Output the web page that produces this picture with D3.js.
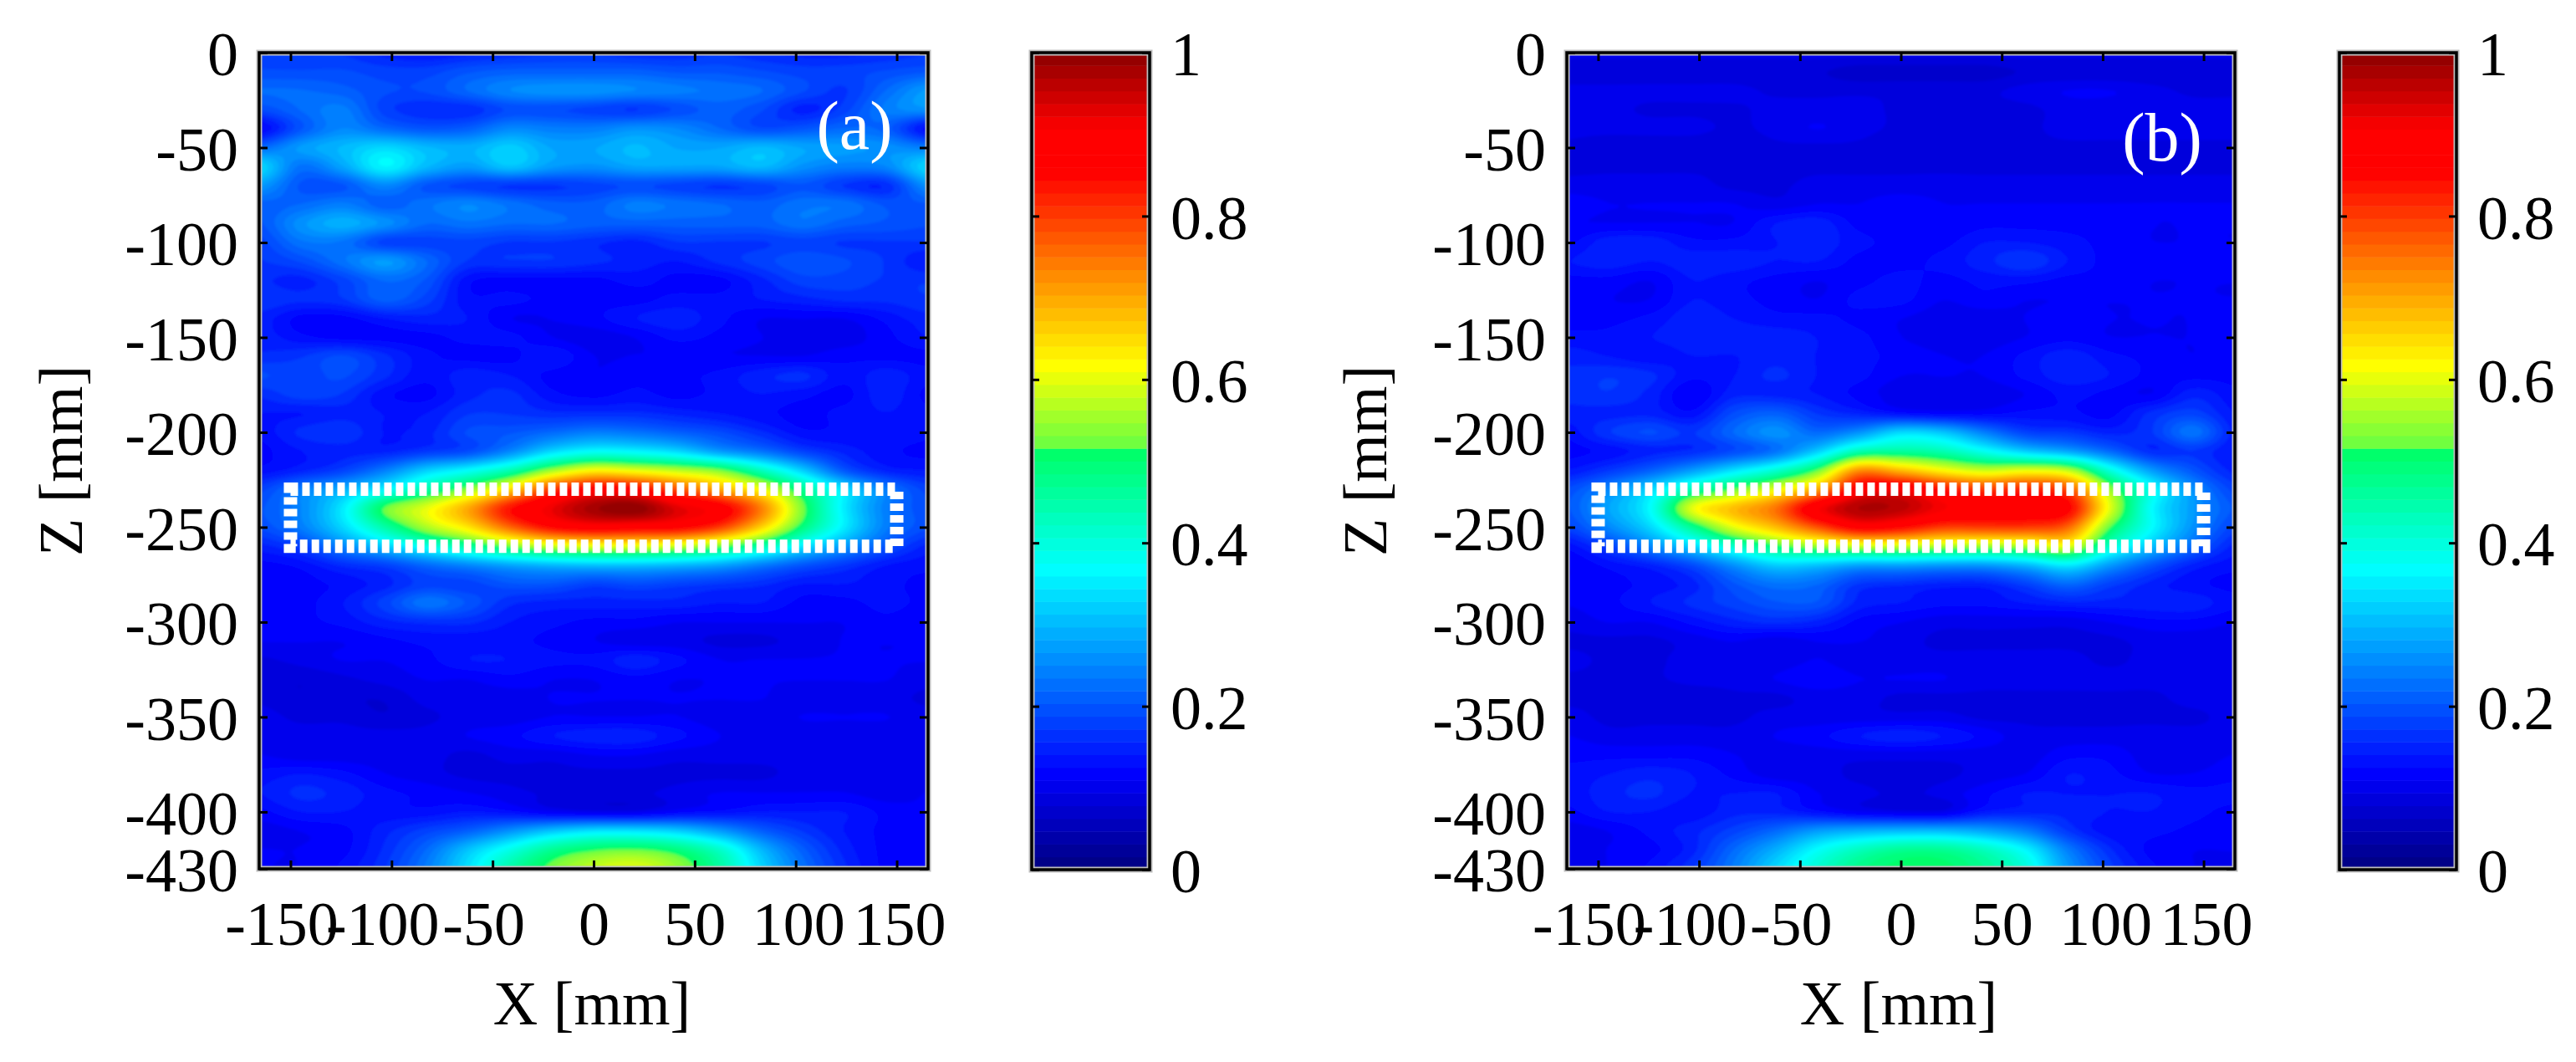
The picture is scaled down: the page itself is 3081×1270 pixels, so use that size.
<!DOCTYPE html>
<html>
<head>
<meta charset="utf-8">
<script src="https://cdn.jsdelivr.net/npm/d3@7"></script>
<style>
  html, body { margin: 0; background: #fff; }
  svg text { font-family: "Liberation Serif", serif; fill: #000; }
</style>
</head>
<body>
<svg id="chart" width="3081" height="1270"></svg>
<script>
// columns: X [mm] of the read-off nodes, rows: Z [mm]
const xNodes = [-165.5, -144.8, -124.1, -103.4, -82.8, -62.1, -41.4, -20.7, 0, 20.7, 41.4, 62.1, 82.8, 103.4, 124.1, 144.8, 165.5];
const zNodes = [0, -10, -20, -30, -40, -50, -60, -70, -80, -90, -100, -110, -120, -130, -140, -150, -160, -170, -180, -190, -200, -210,
  -220, -230, -240, -250, -260, -270, -280, -290, -300, -310, -320, -330, -340, -350, -360, -370, -380, -390, -400, -410, -420, -430];

// normalised field (in percent)
const fieldA = [
  [18,17,17,15,14,15,16,17,17,16,16,17,16,15,15,16,17],
  [19,19,19,18,18,20,21,21,21,21,20,20,19,18,18,19,20],
  [22,22,21,19,19,22,25,26,26,25,24,23,22,19,17,22,27],
  [19,22,24,18,16,16,19,19,18,17,19,21,19,15,18,24,26],
  [12,20,25,22,20,21,25,24,24,26,25,22,19,20,22,21,13],
  [22,27,30,33,30,29,32,28,28,30,28,28,30,28,27,26,24],
  [33,23,28,36,30,27,31,27,26,28,28,28,30,26,24,25,33],
  [27,20,20,25,20,18,17,17,18,19,18,17,18,20,17,16,26],
  [21,22,24,21,23,25,23,21,21,24,23,22,21,23,23,20,20],
  [20,26,29,26,22,23,22,22,21,21,21,21,21,23,21,20,19],
  [18,23,23,18,18,18,17,17,16,15,17,17,17,18,17,17,17],
  [17,19,23,27,22,17,17,17,16,15,14,16,18,20,19,17,14],
  [16,15,18,22,20,13,12,12,12,13,12,12,15,18,18,17,17],
  [17,16,17,21,18,13,13,12,12,12,13,13,14,15,16,16,17],
  [15,12,12,14,15,14,11,11,12,14,15,13,11,11,11,13,15],
  [15,13,12,12,12,13,13,11,10,11,13,12,11,10,10,12,14],
  [16,17,19,16,13,12,12,14,11,11,11,11,11,11,12,12,12],
  [19,18,19,16,13,15,14,12,11,12,12,13,15,16,13,15,13],
  [16,18,17,13,12,15,16,13,12,13,12,13,14,13,12,15,12],
  [14,14,15,14,14,17,17,16,16,16,15,14,13,12,13,14,13],
  [13,16,17,14,15,19,20,22,24,23,21,19,16,13,13,14,13],
  [12,14,15,15,17,19,25,33,37,36,33,27,23,18,15,13,12],
  [13,15,18,24,32,37,44,55,62,60,57,53,43,32,20,15,14],
  [18,24,29,36,45,54,65,80,87,86,78,70,61,47,34,24,18],
  [20,25,35,52,60,70,84,92,98,100,93,88,74,53,35,24,19],
  [19,24,33,45,56,64,76,85,88,87,86,80,66,49,35,24,19],
  [15,18,25,32,39,46,53,58,60,60,58,53,45,35,27,20,15],
  [12,13,16,18,22,25,28,30,31,31,30,28,24,20,17,14,13],
  [12,12,13,15,18,18,20,20,18,19,18,17,16,14,14,13,12],
  [12,12,14,18,23,20,16,15,15,15,15,14,14,12,12,13,12],
  [11,12,13,15,16,16,14,13,12,12,11,11,11,11,11,12,11],
  [11,11,11,12,13,13,13,12,11,10,10,9,9,10,11,11,11],
  [9,10,11,11,12,14,14,13,13,15,13,11,11,11,11,11,11],
  [8,8,9,10,11,11,12,11,11,12,11,11,11,11,11,11,10],
  [9,8,8,8,10,10,10,11,11,11,11,11,11,10,10,10,9],
  [10,9,9,8,9,10,10,11,11,11,11,10,10,11,11,11,10],
  [10,10,10,10,10,11,12,14,15,15,13,11,10,10,10,10,10],
  [11,10,10,10,10,9,10,10,11,11,10,10,10,10,10,10,10],
  [13,14,13,11,10,9,9,9,9,9,9,9,9,10,10,10,10],
  [14,16,15,13,12,11,10,9,9,9,10,11,11,11,11,10,11],
  [12,14,14,13,13,14,13,11,10,10,12,13,14,14,14,12,11],
  [10,11,12,15,18,21,26,31,34,34,32,27,21,17,14,12,11],
  [11,11,12,16,22,31,39,47,51,52,49,42,30,21,15,12,11],
  [11,11,13,17,24,34,45,53,58,60,55,46,33,23,16,12,11]
];

// same grid, panel (b)
const fieldB = [
  [10,10,10,10,10,10,10,10,10,10,10,10,10,10,10,10,10],
  [8,8,8,8,8,8,8,7,7,7,7,8,8,8,8,8,8],
  [10,10,10,10,10,9,9,9,9,9,9,10,11,11,10,9,9],
  [10,10,9,9,9,10,10,10,9,9,9,9,10,10,10,10,10],
  [10,10,10,10,9,10,11,10,9,9,9,9,10,10,10,10,10],
  [9,8,8,8,8,9,9,9,8,8,9,9,9,9,9,9,9],
  [9,9,9,9,9,9,9,9,9,9,9,9,9,9,9,9,9],
  [10,10,10,10,9,9,10,10,10,10,10,10,10,10,10,10,10],
  [12,11,11,11,11,10,11,11,12,11,11,11,11,11,11,11,11],
  [11,11,11,11,11,14,15,12,12,11,12,12,12,12,11,11,11],
  [12,15,15,13,13,14,15,13,12,12,14,14,13,12,11,11,11],
  [14,15,14,15,15,14,14,12,12,13,15,17,14,12,12,11,12],
  [12,12,11,14,13,12,11,12,13,12,13,13,12,12,11,11,11],
  [12,11,11,14,13,12,11,13,13,11,12,11,11,11,11,11,11],
  [12,12,13,15,14,13,13,12,11,10,10,11,12,11,11,11,12],
  [13,13,14,15,15,15,14,13,11,10,10,11,12,11,11,11,12],
  [15,14,13,14,14,15,14,13,12,11,11,13,15,13,12,11,12],
  [16,17,16,13,14,16,14,13,11,11,11,13,15,14,12,12,12],
  [16,17,15,11,15,15,14,12,10,10,10,11,13,12,11,15,13],
  [15,15,15,13,19,21,17,15,13,12,12,13,13,12,16,18,14],
  [13,17,19,17,22,26,22,26,33,31,24,18,17,15,17,23,15],
  [12,13,15,16,19,23,32,44,46,44,38,32,28,22,16,17,14],
  [14,17,21,27,34,41,52,72,68,62,58,60,57,40,27,20,15],
  [19,25,33,44,52,60,70,88,90,84,80,82,78,55,38,26,18],
  [20,28,37,60,68,75,90,97,96,91,88,88,86,60,37,27,20],
  [18,25,33,47,60,68,78,87,85,80,80,80,76,52,37,26,18],
  [13,18,25,33,42,50,55,58,58,56,55,56,60,42,31,22,15],
  [11,13,15,19,26,32,31,28,28,27,27,30,35,27,20,15,13],
  [11,12,13,15,20,23,22,17,16,15,15,18,22,18,15,13,12],
  [11,12,14,16,18,20,20,15,14,13,13,14,15,15,15,15,13],
  [10,11,11,13,15,16,15,12,11,10,10,10,10,11,12,12,11],
  [9,9,9,10,11,10,11,11,10,9,9,9,9,9,10,10,10],
  [10,9,9,10,10,10,11,10,10,10,10,10,10,9,10,10,10],
  [9,9,9,10,10,11,12,11,11,11,10,10,10,10,10,10,10],
  [9,9,8,8,9,9,10,10,9,9,9,9,9,9,9,10,10],
  [10,9,9,9,9,10,10,10,10,10,9,9,9,9,9,9,10],
  [11,10,10,10,10,11,12,14,15,14,12,10,10,10,10,10,10],
  [12,12,12,12,11,10,10,10,10,10,10,10,12,12,10,10,11],
  [13,14,15,14,12,10,10,9,9,9,10,11,14,13,11,11,12],
  [13,15,16,14,14,14,11,10,9,10,12,14,14,14,14,13,13],
  [12,14,14,13,15,15,13,11,10,10,14,15,15,14,14,13,12],
  [10,11,13,15,18,22,27,29,30,30,28,24,17,13,13,12,11],
  [10,11,12,15,22,29,37,43,47,47,43,36,24,16,12,11,11],
  [10,11,13,17,24,33,41,48,51,51,47,40,27,18,13,11,10]
];

// colormap (has the step near 0.51)
const cmapStops = [0, 0.118, 0.368, 0.513, 0.516, 0.617, 0.73, 0.853, 0.906, 1];
const cmapColors = ['#000080', '#0000ff', '#00ffff', '#00ff66', '#66ff44', '#ffff00', '#ff8800', '#ff0000', '#ff0000', '#8b0000'];
const nLevels = 64;

const xTicks = [-150, -100, -50, 0, 50, 100, 150];
const zTicks = [0, -50, -100, -150, -200, -250, -300, -350, -400, -430];
const cbarTicks = [0, 0.2, 0.4, 0.6, 0.8, 1];
const boxX = [-150, 150];
const boxZ = [-260, -230];

const plotTop = 63, plotBottom = 1039;
const fontSize = 74;

const svg = d3.select('#chart');
const color = d3.scaleLinear().domain(cmapStops).range(cmapColors).interpolate(d3.interpolateRgb);
const levels = d3.range(nLevels).map(i => i / nLevels);
const levelColor = i => color((i + 0.5) / nLevels);

const defs = svg.append('defs');
defs.append('filter').attr('id', 'soft')
  .attr('x', '-2%').attr('y', '-2%').attr('width', '104%').attr('height', '104%')
  .append('feGaussianBlur').attr('stdDeviation', 1.4);

// catmull-rom between read-off nodes, only for the smooth shading
function cr(a, b, c, d, t) {
  return 0.5 * (2 * b + (c - a) * t + (2 * a - 5 * b + 4 * c - d) * t * t + (3 * b - a - 3 * c + d) * t * t * t);
}

function sample(field, u, v) {
  const rows = field.length, cols = field[0].length;
  const cell = (r, c) => field[Math.max(0, Math.min(rows - 1, r))][Math.max(0, Math.min(cols - 1, c))];
  const i = Math.min(cols - 2, Math.floor(u)), j = Math.min(rows - 2, Math.floor(v));
  const tu = u - i, tv = v - j;
  const col = k => cr(cell(k, i - 1), cell(k, i), cell(k, i + 1), cell(k, i + 2), tu);
  return Math.max(0, Math.min(100, cr(col(j - 1), col(j), col(j + 1), col(j + 2), tv))) / 100;
}

function drawFrame(g, x, y, w, h) {
  g.append('rect').attr('x', x).attr('y', y).attr('width', w).attr('height', h)
    .attr('fill', 'none').attr('stroke', '#bdbdbd').attr('stroke-width', 7);
  g.append('rect').attr('x', x).attr('y', y).attr('width', w).attr('height', h)
    .attr('fill', 'none').attr('stroke', '#000').attr('stroke-width', 3.5);
}

function styleAxis(sel) {
  sel.select('.domain').remove();
  sel.selectAll('line').attr('stroke', '#000').attr('stroke-width', 3);
  sel.selectAll('text').attr('font-size', fontSize).attr('font-family', '"Liberation Serif", serif').attr('fill', '#000');
}

function drawPanel(id, field, left, right, tag, tagX, tagY, zLabelX, xLabelX) {
  const g = svg.append('g').attr('class', 'panel').attr('id', id);
  const scaleX = d3.scaleLinear().domain([-165.5, 165.5]).range([left, right]);
  const scaleZ = d3.scaleLinear().domain([-430, 0]).range([plotBottom, plotTop]);

  // node index lookups, X/Z -> position in the read-off grid
  const uOf = d3.scaleLinear().domain(xNodes).range(xNodes.map((d, i) => i));
  const vOf = d3.scaleLinear().domain(zNodes).range(zNodes.map((d, i) => i));

  const step = 4;
  const nx = Math.round((right - left) / step);
  const ny = Math.round((plotBottom - plotTop) / step);
  const values = new Array(nx * ny);
  for (let j = 0; j < ny; j++) {
    const z = scaleZ.invert(plotTop + (j + 0.5) * (plotBottom - plotTop) / ny);
    for (let i = 0; i < nx; i++) {
      const x = scaleX.invert(left + (i + 0.5) * (right - left) / nx);
      values[j * nx + i] = sample(field, uOf(x), vOf(z));
    }
  }

  const contours = d3.contours().size([nx, ny]).smooth(true).thresholds(levels)(values);
  const path = d3.geoPath();

  const clipId = `clip-${id}`;
  defs.append('clipPath').attr('id', clipId)
    .append('rect').attr('x', left).attr('y', plotTop).attr('width', right - left).attr('height', plotBottom - plotTop);

  const heat = g.append('g').attr('clip-path', `url(#${clipId})`).append('g').attr('filter', 'url(#soft)');
  heat.append('rect').attr('x', left - 10).attr('y', plotTop - 10)
    .attr('width', right - left + 20).attr('height', plotBottom - plotTop + 20).attr('fill', levelColor(7));
  heat.append('g')
    .attr('transform', `translate(${left},${plotTop}) scale(${(right - left) / nx},${(plotBottom - plotTop) / ny})`)
    .selectAll('path')
    .data(contours)
    .enter().append('path')
    .attr('d', path)
    .attr('fill', (d, i) => levelColor(i));

  // white dotted box
  g.append('rect')
    .attr('x', scaleX(boxX[0])).attr('y', scaleZ(boxZ[1]))
    .attr('width', scaleX(boxX[1]) - scaleX(boxX[0]))
    .attr('height', scaleZ(boxZ[0]) - scaleZ(boxZ[1]))
    .attr('fill', 'none').attr('stroke', '#fff').attr('stroke-width', 16)
    .attr('stroke-dasharray', '9 5');

  drawFrame(g, left, plotTop, right - left, plotBottom - plotTop);

  // axes, ticks point inwards on all four sides
  g.append('g').attr('transform', `translate(0,${plotBottom})`)
    .call(d3.axisBottom(scaleX).tickValues(xTicks).tickFormat(d => String(d)).tickSize(-10).tickPadding(38))
    .call(styleAxis)
    .selectAll('text').attr('dx', d => d < 0 ? -11 : d >= 100 ? 3 : 0);
  g.append('g').attr('transform', `translate(0,${plotTop})`)
    .call(d3.axisTop(scaleX).tickValues(xTicks).tickFormat('').tickSize(-10))
    .call(styleAxis);
  g.append('g').attr('transform', `translate(${left},0)`)
    .call(d3.axisLeft(scaleZ).tickValues(zTicks).tickFormat(d => String(d)).tickSize(-10).tickPadding(25))
    .call(styleAxis)
    .selectAll('text').attr('dy', '0.36em');
  g.append('g').attr('transform', `translate(${right},0)`)
    .call(d3.axisRight(scaleZ).tickValues(zTicks).tickFormat('').tickSize(-10))
    .call(styleAxis);

  g.append('text').attr('x', xLabelX).attr('y', 1225)
    .attr('text-anchor', 'middle').attr('font-size', fontSize).text('X [mm]');
  g.append('text')
    .attr('transform', `translate(${zLabelX},${(plotTop + plotBottom) / 2}) rotate(-90)`)
    .attr('text-anchor', 'middle').attr('font-size', fontSize).text('Z [mm]');
  g.append('text').attr('x', tagX).attr('y', tagY)
    .attr('text-anchor', 'middle').attr('font-size', 82).style('fill', '#fff').text(tag);
}

function drawColorbar(id, left, right) {
  const g = svg.append('g').attr('class', 'colorbar').attr('id', id);
  const scaleV = d3.scaleLinear().domain([0, 1]).range([plotBottom + 1, plotTop]);
  g.selectAll('rect.band')
    .data(levels)
    .enter().append('rect')
    .attr('class', 'band')
    .attr('x', left)
    .attr('width', right - left)
    .attr('y', d => scaleV(d + 1 / nLevels))
    .attr('height', d => scaleV(d) - scaleV(d + 1 / nLevels) + 0.5)
    .attr('fill', (d, i) => levelColor(i));

  drawFrame(g, left, plotTop, right - left, plotBottom + 1 - plotTop);

  g.append('g').attr('transform', `translate(${right},0)`)
    .call(d3.axisRight(scaleV).tickValues(cbarTicks).tickFormat(d => String(d)).tickSize(-9).tickPadding(25))
    .call(styleAxis)
    .selectAll('text').attr('dy', '0.36em');
  g.append('g').attr('transform', `translate(${left},0)`)
    .call(d3.axisLeft(scaleV).tickValues(cbarTicks).tickFormat('').tickSize(-9))
    .call(styleAxis);
}

drawPanel('panel-a', fieldA, 310, 1110, '(a)', 1022, 178, 98, 708);
drawColorbar('cbar-a', 1234, 1375);
drawPanel('panel-b', fieldB, 1874, 2673, '(b)', 2586, 192, 1658, 2271);
drawColorbar('cbar-b', 2798, 2938);
</script>
</body>
</html>
